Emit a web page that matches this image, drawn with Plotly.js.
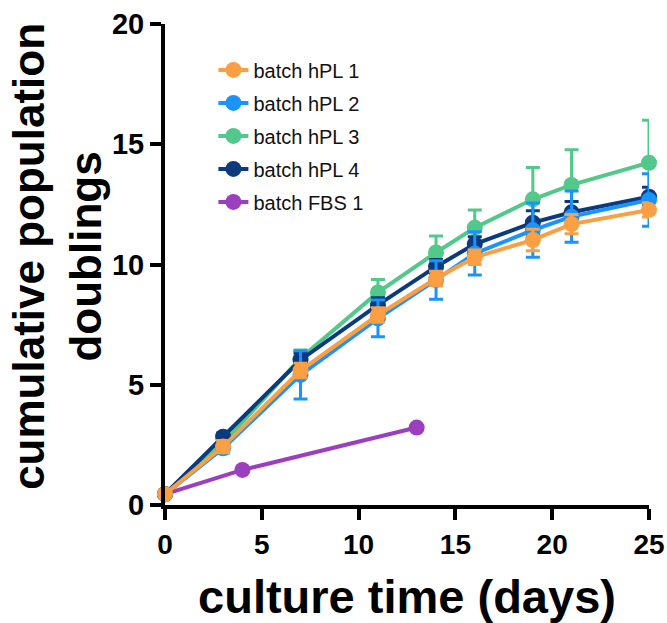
<!DOCTYPE html>
<html>
<head>
<meta charset="utf-8">
<script src="https://cdn.plot.ly/plotly-3.0.1.min.js"></script>
<style>html,body{margin:0;padding:0;background:#fff}#chart{width:667px;height:623px}</style>
</head>
<body>
<div id="chart"></div>
<script>
const days = [0, 3, 7, 11, 14, 16, 19, 21, 25];
const hpl1 = [0.45, 2.43, 5.59, 7.90, 9.42, 10.30, 11.02, 11.68, 12.27];
const hpl1Err = [0, 0.25, 0.3, 0.3, 0.3, 0.3, 0.45, 0.4, 0.3];
const hpl2 = [0.45, 2.36, 5.41, 7.76, 9.36, 10.46, 11.43, 11.99, 12.68];
const hpl2Err = [0, 0.2, 1.0, 0.76, 0.8, 0.9, 1.13, 1.07, 1.09];
const hpl3 = [0.45, 2.56, 6.10, 8.84, 10.50, 11.53, 12.71, 13.31, 14.23];
const hpl3Err = [0, 0.2, 0.35, 0.54, 0.68, 0.74, 1.32, 1.46, 1.77];
const hpl4 = [0.45, 2.84, 6.03, 8.32, 9.91, 10.85, 11.74, 12.17, 12.82];
const hpl4Err = [0, 0.15, 0.3, 0.3, 0.3, 0.3, 0.5, 0.45, 0.39];
const fbsDays = [0, 4, 13];
const fbs1 = [0.45, 1.46, 3.22];

const names = ["batch hPL 1", "batch hPL 2", "batch hPL 3", "batch hPL 4", "batch FBS 1"];
const colors = ["#FA9F42", "#1A93FB", "#52C98A", "#0B3A7E", "#9B3FC0"];

function tr(x, y, err, i) {
  const t = {
    x: x, y: y, name: names[i], type: "scatter", mode: "lines+markers",
    line: {color: colors[i], width: 4},
    marker: {color: colors[i], size: 16},
    cliponaxis: false,
    legendrank: i + 1,
    legendgroup: "g" + i
  };
  if (err) t.error_y = {type: "data", array: err, visible: true, color: colors[i], thickness: 3, width: 7};
  return t;
}

// drawing order: FBS bottom, then hPL3, hPL4, hPL2, hPL1 on top
const data = [
  tr(fbsDays, fbs1, null, 4),
  tr(days, hpl3, hpl3Err, 2),
  tr(days, hpl4, hpl4Err, 3),
  tr(days, hpl2, hpl2Err, 1),
  tr(days, hpl1, hpl1Err, 0)
];

const layout = {
  width: 667, height: 623,
  margin: {l: 165, r: 18, t: 24, b: 118},
  paper_bgcolor: "#fff", plot_bgcolor: "#fff",
  font: {family: "Liberation Sans, Arial, sans-serif", color: "#000"},
  showlegend: true,
  legend: {x: 0.1, y: 0.945, xanchor: "left", yanchor: "top", bgcolor: "rgba(0,0,0,0)",
           font: {size: 20, color: "#111"}, tracegroupgap: 4, itemwidth: 30},
  xaxis: {
    range: [0, 25], tickvals: [0, 5, 10, 15, 20, 25], ticktext: ["0", "5", "10", "15", "20", "25"],
    showgrid: false, zeroline: false, showline: true, linewidth: 4, linecolor: "#000",
    ticks: "outside", ticklen: 11, tickwidth: 4, tickcolor: "#000",
    tickfont: {size: 28, family: "Liberation Sans, Arial, sans-serif", weight: "bold"},
    title: {text: "<b>culture time (days)</b>", font: {size: 47}, standoff: 38}
  },
  yaxis: {
    range: [0, 20], tickvals: [0, 5, 10, 15, 20], ticktext: ["0", "5", "10", "15", "20"],
    showgrid: false, zeroline: false, showline: true, linewidth: 4, linecolor: "#000",
    ticks: "outside", ticklen: 11, tickwidth: 4, tickcolor: "#000",
    tickfont: {size: 29, family: "Liberation Sans, Arial, sans-serif", weight: "bold"}
  },
  annotations: [{
    text: "<b>cumulative population<br>doublings</b>", textangle: -90,
    xref: "paper", yref: "paper", x: -0.223, y: 0.516, xanchor: "center", yanchor: "middle",
    showarrow: false, font: {size: 44, color: "#000"}
  }]
};

Plotly.newPlot("chart", data, layout, {displayModeBar: false, staticPlot: true});
</script>
</body>
</html>
